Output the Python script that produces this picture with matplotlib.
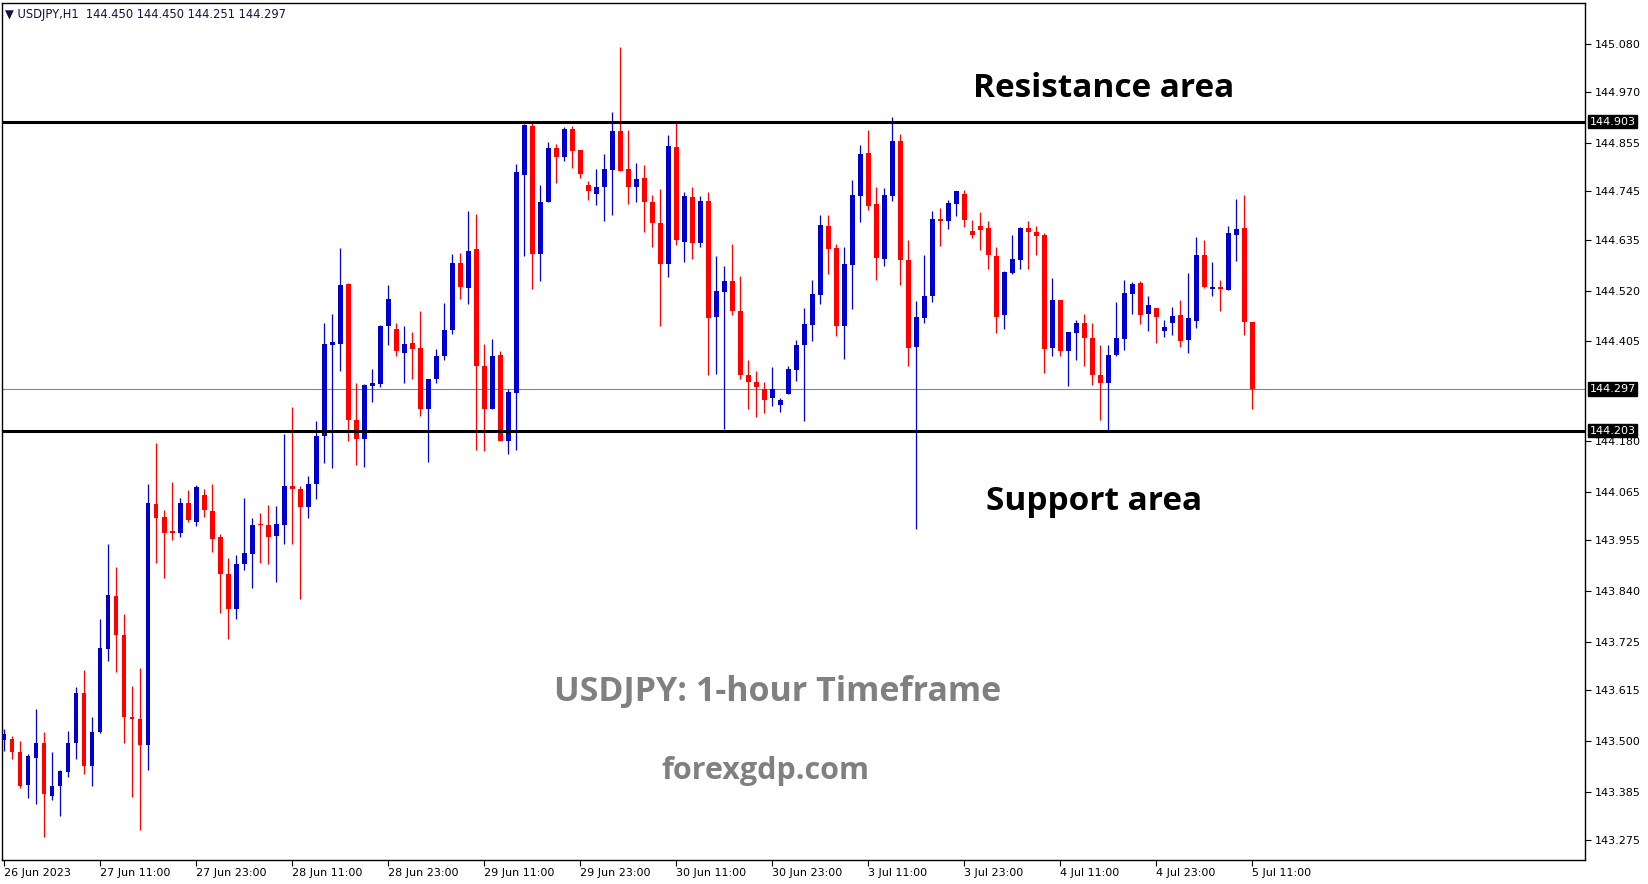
import matplotlib.pyplot as plt

# USDJPY H1 candles, 26 Jun 2023 23:00 -> 5 Jul 2023 11:00
opens = [143.502, 143.505, 143.475, 143.401, 143.462, 143.496, 143.376, 143.397, 143.430, 143.496,
         143.609, 143.442, 143.519, 143.709, 143.829, 143.740, 143.555, 143.550, 143.490, 144.037,
         144.007, 143.976, 143.970, 144.039, 143.995, 144.057, 144.021, 143.962, 143.878, 143.799,
         143.900, 143.924, 143.992, 143.989, 143.965, 143.988, 144.078, 144.071, 144.029, 144.083,
         144.190, 144.398, 144.400, 144.535, 144.227, 144.183, 144.305, 144.309, 144.439, 144.433,
         144.380, 144.402, 144.390, 144.251, 144.319, 144.371, 144.430, 144.583, 144.527, 144.615,
         144.350, 144.253, 144.374, 144.180, 144.289, 144.783, 144.893, 144.604, 144.720, 144.843,
         144.824, 144.887, 144.839, 144.760, 144.740, 144.756, 144.794, 144.882, 144.796, 144.754,
         144.776, 144.721, 144.674, 144.581, 144.846, 144.631, 144.732, 144.629, 144.723, 144.461,
         144.516, 144.542, 144.474, 144.328, 144.314, 144.298, 144.276, 144.260, 144.287, 144.341,
         144.396, 144.443, 144.511, 144.667, 144.617, 144.439, 144.579, 144.735, 144.832, 144.717,
         144.593, 144.735, 144.859, 144.590, 144.393, 144.459, 144.507, 144.683, 144.677, 144.717,
         144.739, 144.655, 144.667, 144.662, 144.599, 144.464, 144.561, 144.590, 144.662, 144.653,
         144.646, 144.391, 144.499, 144.384, 144.425, 144.447, 144.413, 144.329, 144.312, 144.375,
         144.411, 144.513, 144.538, 144.467, 144.481, 144.429, 144.447, 144.465, 144.408, 144.452,
         144.601, 144.524, 144.529, 144.522, 144.646, 144.662, 144.450]
highs = [143.527, 143.511, 143.500, 143.471, 143.573, 143.521, 143.474, 143.434, 143.523, 143.622,
         143.661, 143.555, 143.777, 143.946, 143.894, 143.788, 143.625, 143.666, 144.081, 144.175,
         144.023, 144.087, 144.051, 144.069, 144.080, 144.071, 144.082, 143.969, 143.915, 143.921,
         144.051, 144.005, 144.017, 144.035, 144.032, 144.195, 144.257, 144.078, 144.100, 144.225,
         144.447, 144.467, 144.617, 144.538, 144.311, 144.309, 144.343, 144.443, 144.533, 144.447,
         144.440, 144.427, 144.474, 144.320, 144.388, 144.492, 144.603, 144.606, 144.701, 144.694,
         144.399, 144.411, 144.384, 144.298, 144.807, 144.898, 144.902, 144.760, 144.857, 144.853,
         144.891, 144.893, 144.839, 144.769, 144.796, 144.830, 144.925, 145.073, 144.884, 144.809,
         144.805, 144.737, 144.751, 144.873, 144.902, 144.744, 144.755, 144.735, 144.744, 144.599,
         144.576, 144.626, 144.553, 144.363, 144.337, 144.314, 144.348, 144.278, 144.350, 144.408,
         144.481, 144.544, 144.692, 144.692, 144.626, 144.619, 144.771, 144.850, 144.884, 144.755,
         144.753, 144.914, 144.875, 144.635, 144.497, 144.601, 144.701, 144.707, 144.726, 144.746,
         144.748, 144.680, 144.698, 144.678, 144.619, 144.565, 144.646, 144.664, 144.678, 144.667,
         144.651, 144.549, 144.499, 144.427, 144.454, 144.467, 144.447, 144.396, 144.398, 144.495,
         144.544, 144.540, 144.542, 144.508, 144.481, 144.454, 144.483, 144.499, 144.560, 144.642,
         144.635, 144.585, 144.544, 144.667, 144.728, 144.737, 144.450]
lows = [143.476, 143.460, 143.394, 143.370, 143.358, 143.283, 143.365, 143.329, 143.417, 143.458,
        143.424, 143.397, 143.517, 143.680, 143.655, 143.494, 143.372, 143.299, 143.433, 143.902,
        143.870, 143.955, 143.961, 143.997, 143.987, 144.008, 143.929, 143.789, 143.730, 143.775,
        143.888, 143.847, 143.904, 143.900, 143.861, 143.947, 143.945, 143.822, 144.004, 144.047,
        144.130, 144.118, 144.337, 144.180, 144.125, 144.120, 144.267, 144.301, 144.396, 144.371,
        144.312, 144.319, 144.237, 144.131, 144.310, 144.362, 144.423, 144.502, 144.491, 144.158,
        144.156, 144.253, 144.180, 144.149, 144.158, 144.599, 144.523, 144.541, 144.720, 144.763,
        144.813, 144.797, 144.776, 144.726, 144.715, 144.679, 144.692, 144.792, 144.717, 144.720,
        144.652, 144.620, 144.439, 144.552, 144.624, 144.586, 144.593, 144.618, 144.330, 144.331,
        144.207, 144.466, 144.321, 144.251, 144.233, 144.242, 144.258, 144.246, 144.287, 144.316,
        144.224, 144.407, 144.489, 144.559, 144.418, 144.366, 144.479, 144.676, 144.704, 144.545,
        144.575, 144.724, 144.532, 144.350, 143.980, 144.447, 144.495, 144.622, 144.661, 144.690,
        144.665, 144.640, 144.613, 144.570, 144.425, 144.434, 144.559, 144.570, 144.570, 144.602,
        144.334, 144.373, 144.373, 144.303, 144.364, 144.350, 144.307, 144.228, 144.205, 144.372,
        144.386, 144.467, 144.445, 144.429, 144.402, 144.415, 144.420, 144.393, 144.379, 144.436,
        144.526, 144.508, 144.474, 144.522, 144.587, 144.420, 144.251]
closes = [143.516, 143.474, 143.397, 143.466, 143.496, 143.379, 143.398, 143.432, 143.496, 143.609,
          143.444, 143.521, 143.711, 143.831, 143.739, 143.553, 143.549, 143.490, 144.040, 144.006,
          143.972, 143.970, 144.039, 144.001, 144.075, 144.024, 143.958, 143.877, 143.799, 143.901,
          143.926, 143.989, 143.988, 143.963, 143.992, 144.078, 144.071, 144.031, 144.082, 144.191,
          144.399, 144.404, 144.533, 144.226, 144.183, 144.307, 144.311, 144.440, 144.501, 144.384,
          144.399, 144.389, 144.251, 144.320, 144.372, 144.431, 144.583, 144.529, 144.610, 144.350,
          144.251, 144.372, 144.180, 144.291, 144.788, 144.896, 144.604, 144.721, 144.843, 144.824,
          144.887, 144.837, 144.785, 144.745, 144.755, 144.796, 144.882, 144.792, 144.754, 144.773,
          144.720, 144.674, 144.581, 144.848, 144.634, 144.735, 144.629, 144.723, 144.459, 144.520,
          144.542, 144.473, 144.328, 144.314, 144.301, 144.273, 144.298, 144.273, 144.342, 144.397,
          144.445, 144.513, 144.669, 144.615, 144.439, 144.581, 144.737, 144.830, 144.713, 144.595,
          144.737, 144.859, 144.590, 144.391, 144.461, 144.508, 144.683, 144.677, 144.719, 144.746,
          144.681, 144.647, 144.658, 144.600, 144.461, 144.562, 144.592, 144.662, 144.652, 144.645,
          144.389, 144.499, 144.384, 144.427, 144.447, 144.412, 144.328, 144.312, 144.375, 144.413,
          144.515, 144.535, 144.465, 144.488, 144.461, 144.438, 144.463, 144.406, 144.458, 144.601,
          144.529, 144.529, 144.524, 144.651, 144.660, 144.449, 144.297]

# one date label every 12 bars
date_labels = ["26 Jun 2023", "27 Jun 11:00", "27 Jun 23:00", "28 Jun 11:00", "28 Jun 23:00",
               "29 Jun 11:00", "29 Jun 23:00", "30 Jun 11:00", "30 Jun 23:00", "3 Jul 11:00",
               "3 Jul 23:00", "4 Jul 11:00", "4 Jul 23:00", "5 Jul 11:00"]
price_ticks = [145.080, 144.970, 144.855, 144.745, 144.635, 144.520, 144.405, 144.180,
               144.065, 143.955, 143.840, 143.725, 143.615, 143.500, 143.385, 143.275]

resistance = 144.903
support = 144.203
bid = 144.297

bull_color = "#0000CD"
bear_color = "#FF0000"

fig = plt.figure(figsize=(16.49, 8.84), dpi=100)
ax = fig.add_axes([2 / 1649, 24 / 884, 1583 / 1649, 857 / 884])

#candles: wick first, then the body on top
xs = list(range(len(opens)))
colors = [bull_color if c >= o else bear_color for o, c in zip(opens, closes)]
bottoms = [min(o, c) for o, c in zip(opens, closes)]
heights = [max(abs(c - o), 0.002) for o, c in zip(opens, closes)]
ax.vlines(xs, lows, highs, colors=colors, linewidth=0.9, zorder=3)
ax.bar(xs, heights, width=0.62, bottom=bottoms, color=colors, linewidth=0, zorder=4)

#bid line and the two horizontal levels
ax.axhline(bid, color="#778899", linewidth=0.8, zorder=2)
ax.axhline(resistance, color="black", linewidth=2.2, zorder=5)
ax.axhline(support, color="black", linewidth=2.2, zorder=5)

ax.set_xlim(-0.25, 197.6)
ax.set_ylim(143.230, 145.172)

#price scale on the right like MT4
ax.yaxis.tick_right()
ax.set_yticks(price_ticks)
ax.set_yticklabels(["%.3f" % p for p in price_ticks])
ax.tick_params(axis="y", length=4, width=0.8, labelsize=8, pad=3)

ax.set_xticks(range(0, len(opens), 12))
ax.set_xticklabels(date_labels, ha="left")
ax.tick_params(axis="x", length=4, width=0.8, labelsize=8, pad=2)

for side in ["left", "right", "top", "bottom"]:
    ax.spines[side].set_color("black")
    ax.spines[side].set_linewidth(1)

#black price boxes on the scale
for p in [resistance, bid, support]:
    ax.text(1.0028, p, "%.3f" % p, transform=ax.get_yaxis_transform(), ha="left", va="center",
            color="white", fontsize=8, clip_on=False, zorder=10,
            bbox=dict(boxstyle="square,pad=0.15", facecolor="black", edgecolor="black"))

#header with the last bar values
header = "\u25bc USDJPY,H1  %.3f %.3f %.3f %.3f" % (opens[-1], highs[-1], lows[-1], closes[-1])
ax.text(0.002, 0.994, header, transform=ax.transAxes, ha="left", va="top",
        fontsize=8.3, color="#10104a")

#annotations
ax.text(137.4, 144.979, "Resistance area", ha="center", va="center",
        fontsize=24, fontweight="bold", family="Open Sans", color="black")
ax.text(136.2, 144.043, "Support area", ha="center", va="center",
        fontsize=24, fontweight="bold", family="Open Sans", color="black")
ax.text(96.75, 143.611, "USDJPY: 1-hour Timeframe", ha="center", va="center",
        fontsize=24.5, fontweight="bold", family="Open Sans", color="#808080")
ax.text(95.1, 143.432, "forexgdp.com", ha="center", va="center",
        fontsize=22, fontweight="bold", family="Open Sans", color="#808080")

fig.savefig("out.png", dpi=100)
